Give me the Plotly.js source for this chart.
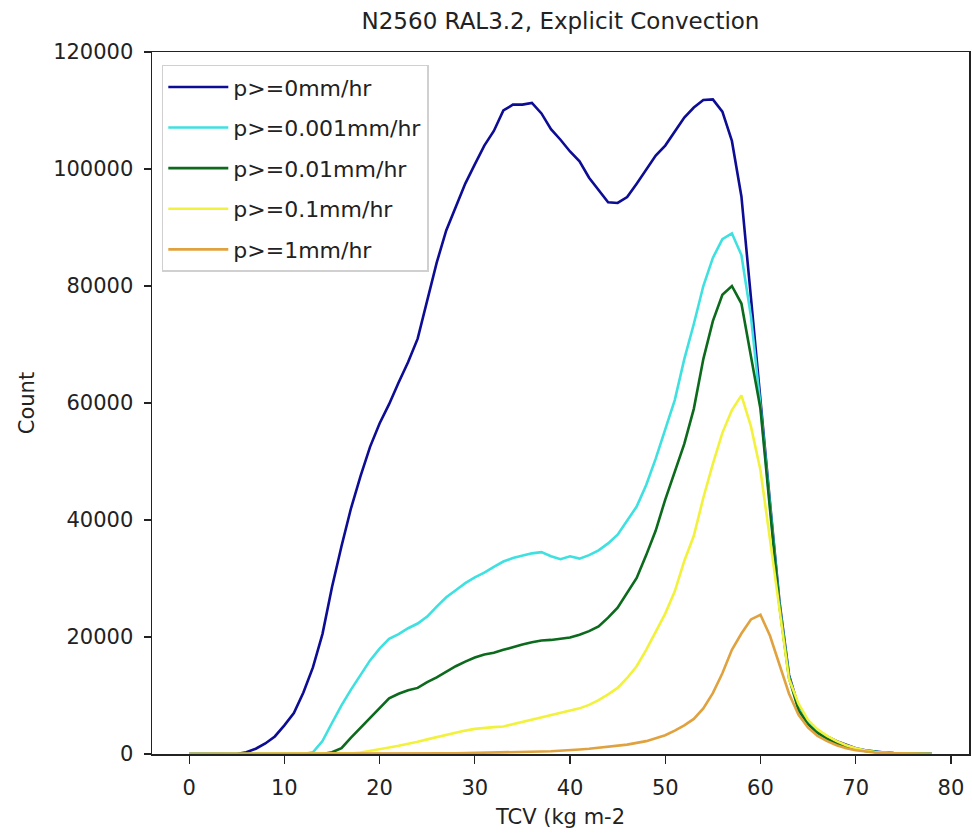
<!DOCTYPE html>
<html>
<head>
<meta charset="utf-8">
<script src="https://cdn.plot.ly/plotly-3.0.1.min.js"></script>
<style>html,body{margin:0;padding:0;background:#fff;}#chart{width:972px;height:838px;}</style>
</head>
<body>
<div id="chart"></div>
<script>
// TCV bins (kg m-2)
const tcv = [0,1,2,3,4,5,6,7,8,9,10,11,12,13,14,15,16,17,18,19,20,21,22,23,24,25,26,27,28,29,30,31,32,33,34,35,36,37,38,39,40,41,42,43,44,45,46,47,48,49,50,51,52,53,54,55,56,57,58,59,60,61,62,63,64,65,66,67,68,69,70,71,72,73,74,75,76,77,78];

const seriesNames = ["p>=0mm/hr","p>=0.001mm/hr","p>=0.01mm/hr","p>=0.1mm/hr","p>=1mm/hr"];

const countP0 = [0,0,0,0,0,0,300,900,1800,3000,4900,7000,10500,14800,20500,28500,35500,42000,47500,52500,56500,59800,63500,67000,71000,77500,84000,89500,93500,97500,100800,104000,106500,110000,111000,111000,111300,109500,106800,105000,103000,101300,98500,96300,94300,94200,95200,97500,100000,102300,104000,106500,108800,110500,111800,111900,109800,104800,95300,78000,60000,43000,26000,13500,8000,5500,4000,3000,2200,1600,1000,650,400,250,150,90,60,35,20];

const countP0001 = [0,0,0,0,0,0,0,0,0,0,0,0,0,300,2200,5300,8300,11000,13500,16000,18000,19700,20500,21500,22300,23500,25200,26800,28000,29200,30200,31000,32000,32900,33500,33900,34300,34500,33800,33300,33800,33400,34000,34800,36000,37500,39800,42300,46000,50500,55500,60500,67500,73500,80000,84800,88000,89000,85300,74800,59500,42300,25500,13200,7700,5300,3800,2800,2000,1400,900,580,350,220,130,80,50,30,15];

const countP001 = [0,0,0,0,0,0,0,0,0,0,0,0,0,0,0,300,1000,2800,4500,6200,7900,9500,10300,10900,11300,12300,13100,14100,15000,15800,16500,17000,17300,17800,18300,18700,19100,19400,19500,19700,19900,20400,21000,21800,23300,25000,27500,30100,34000,38200,43500,48300,53000,59000,67500,74000,78500,80000,77000,68000,59000,41800,25200,13000,7500,5100,3600,2600,1800,1250,800,500,300,190,110,70,40,25,12];

const countP01 = [0,0,0,0,0,0,0,0,0,0,0,0,0,0,0,0,0,100,250,500,800,1100,1400,1700,2100,2500,2900,3200,3700,4000,4300,4500,4600,4700,5100,5500,5800,6200,6600,7000,7400,7800,8400,9200,10200,11300,13000,15000,17800,20800,24000,27800,33000,37300,43800,49600,54900,58800,61300,56000,48500,36700,24500,12800,8600,5800,4200,3100,2200,1500,1000,600,350,200,110,70,40,25,12];

const countP1 = [0,0,0,0,0,0,0,0,0,0,0,0,0,0,0,0,0,0,0,0,0,0,0,0,0,50,80,100,130,150,180,200,230,260,300,340,380,420,480,550,650,780,900,1050,1250,1400,1600,1900,2200,2700,3200,4000,4900,6000,7800,10400,13800,17800,20600,23000,23800,20200,15200,10300,6700,4500,3100,2200,1500,1000,650,420,250,150,90,60,35,20,10];

const seriesColors = ["#0c0c94","#3ee0e0","#0b6a1c","#f2f23c","#e0a23e"];
const allCounts = [countP0, countP0001, countP001, countP01, countP1];

const traces = allCounts.map((ys, i) => ({
  type: "scatter",
  mode: "lines",
  x: tcv,
  y: ys,
  name: seriesNames[i],
  legendgroup: "g" + i,
  line: {color: seriesColors[i], width: 2.6}
}));

const fontFam = "DejaVu Sans, sans-serif";
const layout = {
  width: 972,
  height: 838,
  margin: {l: 152, r: 3, t: 52, b: 84},
  paper_bgcolor: "#ffffff",
  plot_bgcolor: "#ffffff",
  font: {family: fontFam, size: 21, color: "#222222"},
  title: {
    text: "N2560 RAL3.2, Explicit Convection",
    font: {family: fontFam, size: 23, color: "#222222"},
    x: 0.5, xref: "paper", xanchor: "center",
    y: 0.975, yref: "container", yanchor: "middle"
  },
  xaxis: {
    range: [-3.9, 81.9],
    tickvals: [0,10,20,30,40,50,60,70,80],
    ticks: "outside", ticklen: 8, tickcolor: "#222", tickwidth: 1.2,
    ticklabelstandoff: 6,
    showgrid: false, zeroline: false,
    showline: true, linecolor: "#222", linewidth: 1.5, mirror: true,
    tickfont: {family: fontFam, size: 21, color: "#222"},
    title: {text: "TCV (kg m-2", font: {family: fontFam, size: 21, color: "#222"}, standoff: 10}
  },
  yaxis: {
    range: [0, 120000],
    tickvals: [0,20000,40000,60000,80000,100000,120000],
    tickformat: "d",
    ticks: "outside", ticklen: 7, tickcolor: "#222", tickwidth: 1.2,
    ticklabelstandoff: 6,
    showgrid: false, zeroline: false,
    showline: true, linecolor: "#222", linewidth: 1.5, mirror: true,
    tickfont: {family: fontFam, size: 21, color: "#222"},
    title: {text: "Count", font: {family: fontFam, size: 21, color: "#222"}, standoff: 13}
  },
  legend: {
    x: 0.012, y: 0.982, xanchor: "left", yanchor: "top",
    bgcolor: "rgba(255,255,255,0.85)",
    bordercolor: "#d0d0d0", borderwidth: 1.5,
    font: {family: fontFam, size: 22, color: "#222"},
    tracegroupgap: 9,
    itemwidth: 60
  },
  showlegend: true
};

Plotly.newPlot("chart", traces, layout, {displayModeBar: false, staticPlot: true});
</script>
</body>
</html>
